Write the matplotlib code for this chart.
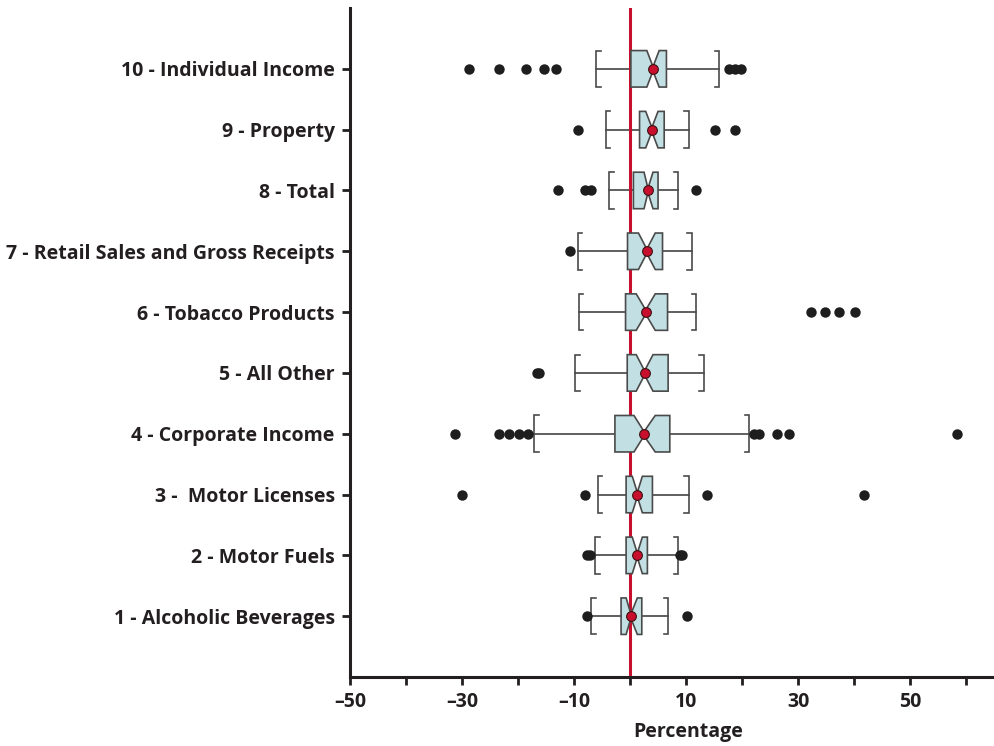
import matplotlib
matplotlib.use("Agg")
import matplotlib.pyplot as plt
from matplotlib.patches import Polygon

categories = ["1 - Alcoholic Beverages", "2 - Motor Fuels", "3 -  Motor Licenses",
              "4 - Corporate Income", "5 - All Other", "6 - Tobacco Products",
              "7 - Retail Sales and Gross Receipts", "8 - Total", "9 - Property",
              "10 - Individual Income"]
whisker_lo = [-6.9, -6.2, -5.8, -17.1, -9.8, -9.2, -9.3, -3.7, -4.3, -6.0]
q1 =         [-1.6, -0.7, -0.7, -2.7, -0.5, -0.8, -0.45, 0.6, 1.7, 0.15]
ci_lo =      [-0.7, 0.4, 0.4, 0.7, 1.1, 1.1, 1.5, 2.5, 2.8, 3.0]
median =     [0.15, 1.3, 1.3, 2.5, 2.6, 2.8, 3.0, 3.2, 3.9, 4.1]
ci_hi =      [1.3, 2.2, 2.2, 4.5, 4.1, 4.5, 4.5, 4.1, 5.0, 5.2]
q3 =         [2.1, 3.1, 4.0, 7.1, 6.8, 6.7, 5.8, 5.0, 6.1, 6.5]
whisker_hi = [6.8, 8.6, 10.5, 21.3, 13.2, 11.8, 11.0, 8.6, 10.5, 15.9]
means =      [0.15, 1.3, 1.3, 2.5, 2.6, 2.8, 3.0, 3.2, 3.9, 4.1]
outliers = [
    [-7.7, 10.1],
    [-7.6, -7.2, 8.9, 9.2],
    [-30.0, -8.0, 13.8, 41.8],
    [-31.2, -23.4, -21.6, -19.8, -18.2, 22.1, 23.0, 26.3, 28.4, 58.3],
    [-16.6, -16.2],
    [32.3, 34.8, 37.4, 40.2],
    [-10.7],
    [-12.9, -8.0, -6.9, 11.7],
    [-9.3, 15.1, 18.7],
    [-28.8, -23.4, -18.6, -15.3, -13.2, 17.6, 18.7, 19.8],
]
major_ticks = list(range(-50, 61, 10))
tick_labels = ["\u201350", "", "\u201330", "", "\u201310", "", "10", "", "30", "", "50", ""]
reference_value = 0

plt.rcParams['font.family'] = ['Open Sans', 'DejaVu Sans']
fig = plt.figure(figsize=(9.95, 7.46), dpi=100)
ax = fig.add_axes([350/995, 1-677/746, (1026-350)/995, (677-8)/746])

txt = "#231f20"
edge = "#4a4a4a"
boxface = "#c2e0e3"
red = "#c8102e"
h = 0.3
d = 0.035
serif = 0.8

ax.axvline(reference_value, color=red, lw=2.2, zorder=2)

for i, cat in enumerate(categories):
    p = i + 1
    ax.plot([whisker_lo[i], q1[i]], [p, p], color="#444444", lw=1.2, zorder=1)
    ax.plot([q3[i], whisker_hi[i]], [p, p], color="#444444", lw=1.2, zorder=1)
    wl, wh = whisker_lo[i], whisker_hi[i]
    ax.plot([wl + serif, wl, wl, wl + serif], [p - h, p - h, p + h, p + h],
            color=edge, lw=1.2, zorder=1, solid_joinstyle='miter')
    ax.plot([wh - serif, wh, wh, wh - serif], [p - h, p - h, p + h, p + h],
            color=edge, lw=1.2, zorder=1, solid_joinstyle='miter')
    xs = [q1[i], ci_lo[i], median[i], ci_hi[i], q3[i], q3[i], ci_hi[i], median[i], ci_lo[i], q1[i]]
    ys = [p + h, p + h, p + d, p + h, p + h, p - h, p - h, p - d, p - h, p - h]
    ax.add_patch(Polygon(list(zip(xs, ys)), closed=True, facecolor=boxface,
                         edgecolor=edge, lw=1.2, zorder=3))
    ax.plot(outliers[i], [p] * len(outliers[i]), 'o', color="#1e1e1e",
            markersize=7.5, markeredgewidth=0, zorder=4)
    ax.plot([means[i]], [p], 'o', color=red, markersize=7, markeredgecolor="#3a1010",
            markeredgewidth=0.8, zorder=5)

ax.set_xlim(-50, 70.7)
ax.set_ylim(0, 11)
ax.set_xticks(major_ticks)
ax.set_xticklabels(tick_labels)
ax.set_yticks(range(1, len(categories) + 1))
ax.set_yticklabels(categories)

for s in ["top", "right"]:
    ax.spines[s].set_visible(False)
for s in ["left", "bottom"]:
    ax.spines[s].set_linewidth(2.2)
    ax.spines[s].set_color(txt)

ax.tick_params(axis='both', direction='out', length=6, width=2, color=txt,
               labelsize=14, labelcolor=txt, pad=5)
for lab in ax.get_xticklabels() + ax.get_yticklabels():
    lab.set_fontweight('bold')
ax.set_xlabel("Percentage", fontsize=14, fontweight='bold', color=txt, labelpad=7)

fig.savefig("out.png", dpi=100)
